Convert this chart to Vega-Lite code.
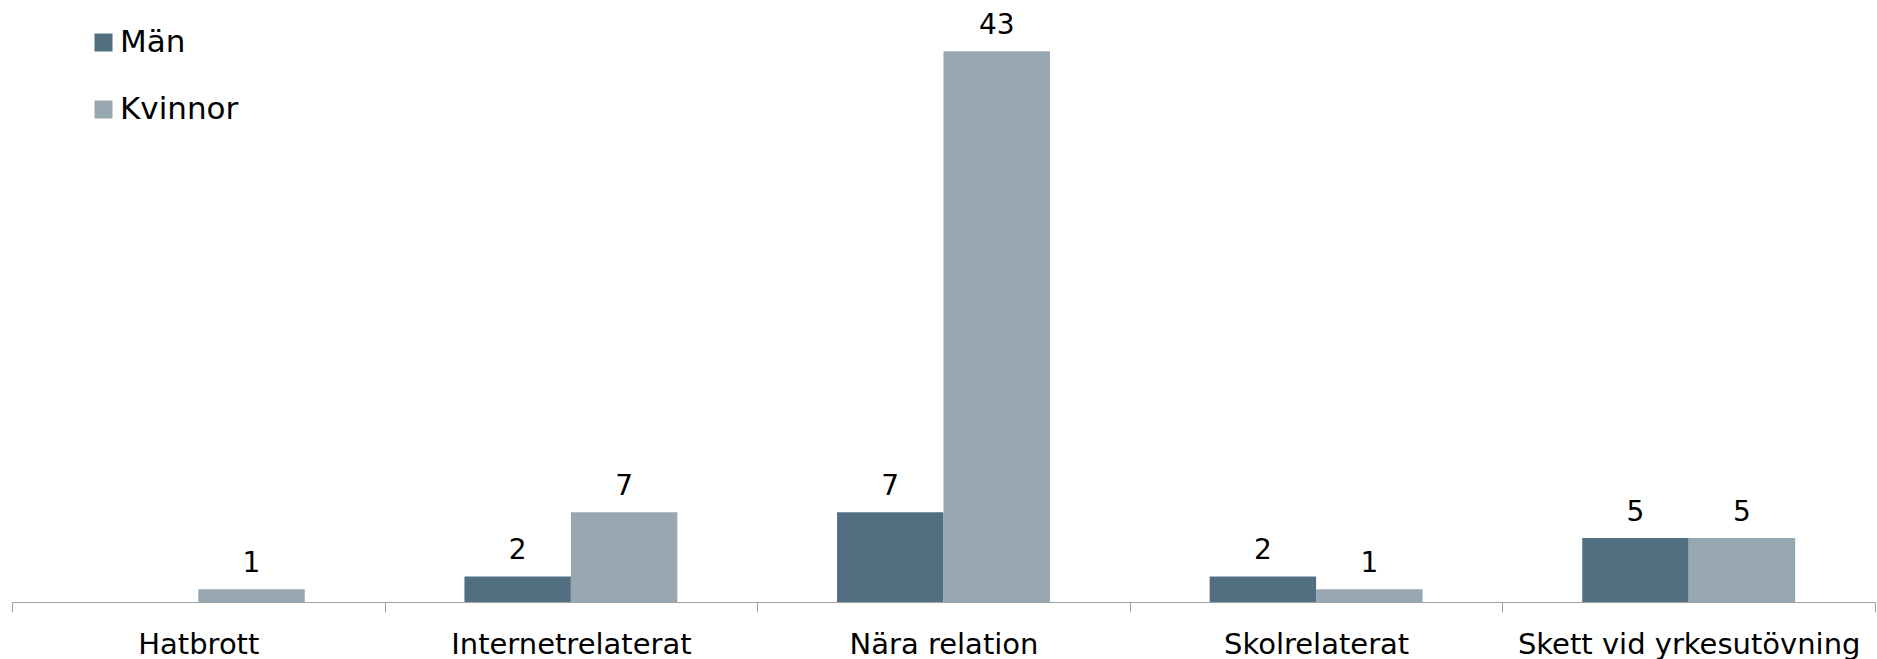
{
  "$schema": "https://vega.github.io/schema/vega-lite/v6.json",
  "width": 1863,
  "height": 602,
  "autosize": {"type": "none"},
  "padding": {"left": 12, "top": 0, "right": 2, "bottom": 57},
  "background": "white",
  "config": {
    "view": {"stroke": null},
    "font": "DejaVu Sans"
  },
  "data": {
    "values": [
      {"kategori": "Hatbrott", "kon": "Män", "antal": null},
      {"kategori": "Hatbrott", "kon": "Kvinnor", "antal": 1},
      {"kategori": "Internetrelaterat", "kon": "Män", "antal": 2},
      {"kategori": "Internetrelaterat", "kon": "Kvinnor", "antal": 7},
      {"kategori": "Nära relation", "kon": "Män", "antal": 7},
      {"kategori": "Nära relation", "kon": "Kvinnor", "antal": 43},
      {"kategori": "Skolrelaterat", "kon": "Män", "antal": 2},
      {"kategori": "Skolrelaterat", "kon": "Kvinnor", "antal": 1},
      {"kategori": "Skett vid yrkesutövning", "kon": "Män", "antal": 5},
      {"kategori": "Skett vid yrkesutövning", "kon": "Kvinnor", "antal": 5}
    ]
  },
  "encoding": {
    "x": {
      "field": "kategori",
      "type": "nominal",
      "sort": ["Hatbrott", "Internetrelaterat", "Nära relation", "Skolrelaterat", "Skett vid yrkesutövning"],
      "scale": {"paddingInner": 0, "paddingOuter": 0},
      "axis": {
        "title": null,
        "labelAngle": 0,
        "labelFont": "DejaVu Sans",
        "labelFontSize": 29,
        "labelColor": "#000000",
        "labelPadding": 18,
        "labelLimit": 0,
        "labelOverlap": false,
        "tickBand": "extent",
        "tickSize": 10,
        "tickColor": "#a0a0a0",
        "domainColor": "#a0a0a0",
        "tickWidth": 1,
        "domainWidth": 1,
        "grid": false
      }
    },
    "xOffset": {
      "field": "kon",
      "type": "nominal",
      "sort": ["Män", "Kvinnor"],
      "scale": {"paddingInner": 0, "paddingOuter": 0.75}
    },
    "y": {
      "field": "antal",
      "type": "quantitative",
      "scale": {"domain": [0, 47]},
      "axis": null
    }
  },
  "layer": [
    {
      "mark": {"type": "bar"},
      "encoding": {
        "color": {
          "field": "kon",
          "type": "nominal",
          "sort": ["Män", "Kvinnor"],
          "scale": {"domain": ["Män", "Kvinnor"], "range": ["#526f82", "#98a8b2"]},
          "legend": {
            "title": null,
            "orient": "none",
            "legendX": 76,
            "legendY": 27,
            "padding": 0,
            "symbolType": "square",
            "symbolSize": 324,
            "symbolStrokeWidth": 0,
            "labelFont": "DejaVu Sans",
            "labelFontSize": 31,
            "labelColor": "#000000",
            "labelOffset": 1,
            "rowPadding": 35
          }
        }
      }
    },
    {
      "mark": {"type": "text", "baseline": "alphabetic", "dy": -17, "fontSize": 28, "font": "DejaVu Sans", "color": "#000000"},
      "encoding": {
        "text": {"field": "antal", "type": "quantitative"}
      }
    }
  ]
}
